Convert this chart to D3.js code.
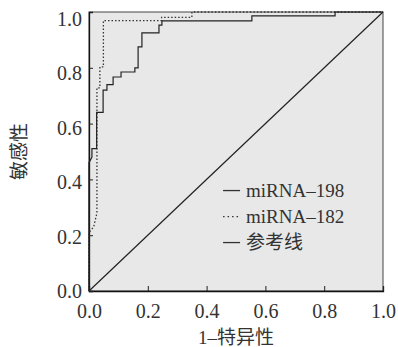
<!DOCTYPE html>
<html>
<head>
<meta charset="utf-8">
<script src="https://cdn.jsdelivr.net/npm/d3@7"></script>
<style>
  body { margin: 0; background: #fff; }
  svg text { font-family: "Liberation Serif", "Noto Sans CJK SC", serif; fill: #333; }
</style>
</head>
<body>
<div id="chart"></div>
<script>
// ROC curve points [1 - specificity, sensitivity]
const mirna198 = [
  [0, 0], [0, 0.46], [0.01, 0.48], [0.01, 0.51], [0.026, 0.51], [0.026, 0.64],
  [0.048, 0.64], [0.048, 0.72], [0.061, 0.72], [0.061, 0.74], [0.082, 0.74],
  [0.082, 0.767], [0.109, 0.767], [0.109, 0.785], [0.156, 0.785], [0.156, 0.80],
  [0.167, 0.80], [0.167, 0.875], [0.18, 0.875], [0.18, 0.925], [0.238, 0.925],
  [0.238, 0.953], [0.248, 0.953], [0.248, 0.968], [0.554, 0.968], [0.554, 0.986],
  [0.837, 0.986], [0.837, 1], [1, 1]
];
const mirna182 = [
  [0, 0], [0, 0.21], [0.016, 0.23], [0.027, 0.28], [0.027, 0.728], [0.037, 0.728],
  [0.037, 0.803], [0.049, 0.803], [0.049, 0.969], [0.247, 0.969], [0.247, 0.981],
  [0.35, 0.981], [0.35, 1], [1, 1]
];
const refLine = [[0, 0], [1, 1]];
const ticks = [0, 0.2, 0.4, 0.6, 0.8, 1.0];
const legendLabels = ["miRNA–198", "miRNA–182", "参考线"];

const width = 398, height = 347;
const margin = { top: 12, right: 15, bottom: 56, left: 89 };
const w = width - margin.left - margin.right;
const h = height - margin.top - margin.bottom;

const svg = d3.select("#chart").append("svg")
  .attr("width", width)
  .attr("height", height);

const g = svg.append("g").attr("transform", `translate(${margin.left},${margin.top})`);

const x = d3.scaleLinear().domain([0, 1]).range([0, w]);
const y = d3.scaleLinear().domain([0, 1]).range([h, 0]);

// plot background
g.append("rect")
  .attr("width", w)
  .attr("height", h)
  .attr("fill", "#e8e8e8")
  .attr("stroke", "#444")
  .attr("stroke-width", 1);

// axes with inward ticks
const xAxis = g.append("g")
  .attr("transform", `translate(0,${h})`)
  .call(d3.axisBottom(x).tickValues(ticks).tickSize(-5).tickPadding(9).tickFormat(d3.format(".1f")));
const yAxis = g.append("g")
  .call(d3.axisLeft(y).tickValues(ticks).tickSize(-4).tickPadding(7).tickFormat(d3.format(".1f")));

[xAxis, yAxis].forEach(a => {
  a.select(".domain").attr("stroke", "#111").attr("stroke-width", 1.3);
  a.selectAll(".tick line").attr("stroke", "#222");
  a.selectAll(".tick text").style("font-size", "20px").attr("fill", "#333");
});
xAxis.selectAll(".tick text").attr("dy", "0.9em");
// labels in the scan sit a little lower towards the top
yAxis.selectAll(".tick text").attr("y", d => d * 7);

const line = d3.line().x(d => x(d[0])).y(d => y(d[1]));

g.append("path").datum(refLine)
  .attr("d", line).attr("fill", "none")
  .attr("stroke", "#222").attr("stroke-width", 1.2);

g.append("path").datum(mirna182)
  .attr("d", line).attr("fill", "none")
  .attr("stroke", "#333").attr("stroke-width", 1.3)
  .attr("stroke-dasharray", "1.5,2");

g.append("path").datum(mirna198)
  .attr("d", line).attr("fill", "none")
  .attr("stroke", "#222").attr("stroke-width", 1.2);

// legend
const legend = g.append("g").attr("transform", `translate(${x(0.456)},${y(0.36)})`);
legendLabels.forEach((label, i) => {
  const row = legend.append("g").attr("transform", `translate(0,${i * 26})`);
  row.append("line")
    .attr("x1", 0).attr("x2", 17).attr("y1", 0).attr("y2", 0)
    .attr("stroke", "#333").attr("stroke-width", 1.3)
    .attr("stroke-dasharray", i === 1 ? "1.5,3" : null);
  row.append("text")
    .attr("x", 23).attr("y", 0).attr("dy", "0.35em")
    .style("font-size", "19px")
    .text(label);
});

// axis titles
svg.append("text")
  .attr("x", margin.left + w / 2)
  .attr("y", height - 3)
  .attr("text-anchor", "middle")
  .style("font-size", "19px")
  .text("1–特异性");

svg.append("text")
  .attr("transform", `translate(26,${margin.top + h / 2}) rotate(-90)`)
  .attr("text-anchor", "middle")
  .style("font-size", "19px")
  .text("敏感性");
</script>
</body>
</html>
